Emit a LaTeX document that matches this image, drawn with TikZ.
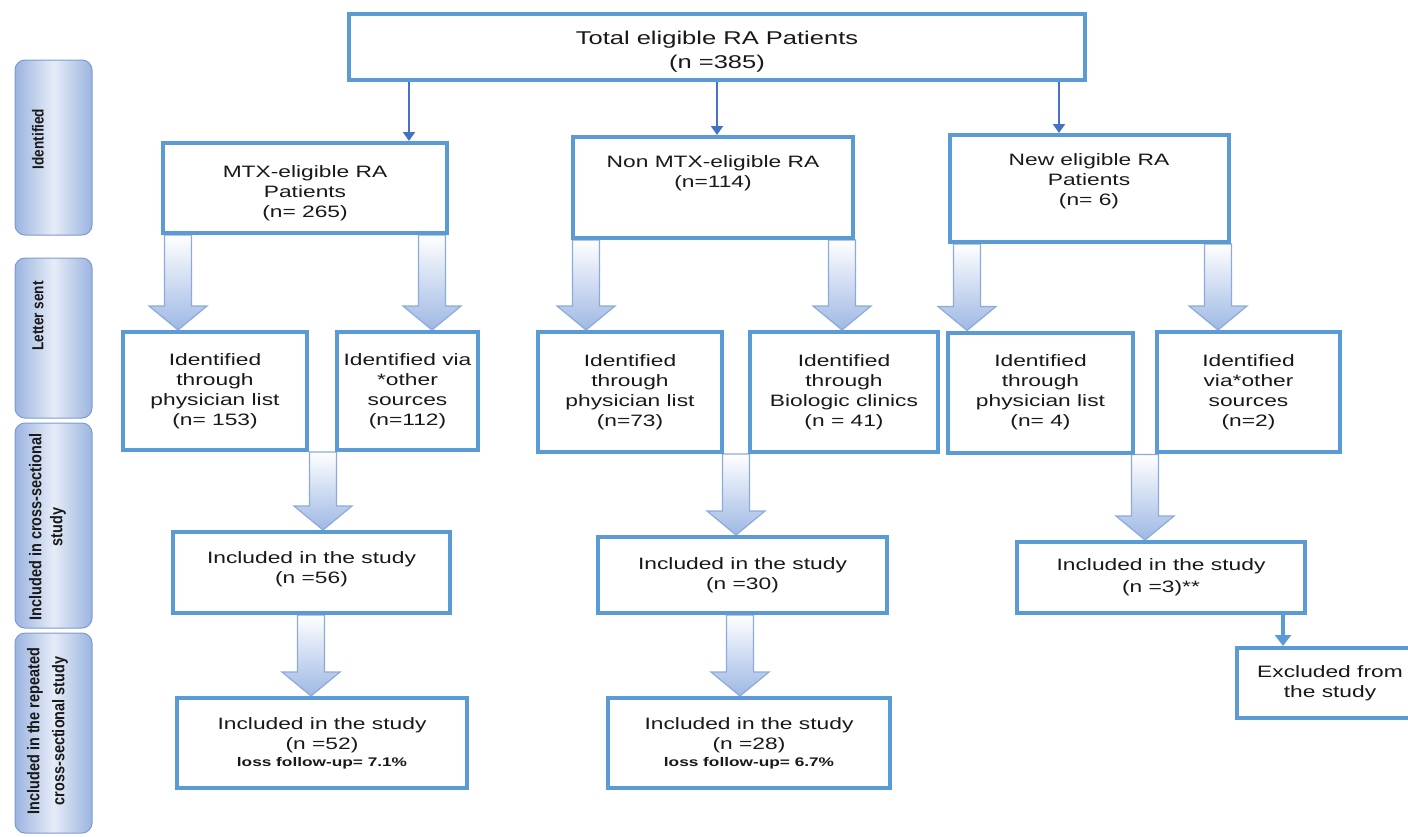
\documentclass[tikz,border=0pt]{standalone}
\usepackage{fontspec}
\setmainfont{Liberation Sans}[FakeStretch=1.38]
\newfontfamily\sidefont{Liberation Sans}[FakeStretch=0.85]
\usetikzlibrary{arrows.meta,calc,backgrounds}

\definecolor{boxblue}{RGB}{91,155,213}
\definecolor{linkblue}{RGB}{68,114,196}
\definecolor{inkgray}{RGB}{25,25,25}
\definecolor{shaftedge}{RGB}{140,170,218}
\definecolor{shaftfill}{RGB}{158,184,228}
\definecolor{sideedge}{RGB}{125,155,210}
\definecolor{sidedark}{RGB}{155,180,224}
\definecolor{sidelight}{RGB}{230,236,247}

\tikzset{
  flowbox/.style={draw=boxblue, line width=4pt, fill=white, align=center,
    inner sep=3pt, text=inkgray, font=\fontsize{16.5}{20}\selectfont},
  sidebox/.style={draw=sideedge, line width=1pt, rounded corners=10pt,
    left color=sidedark, right color=sidedark, middle color=sidelight},
  sidetext/.style={rotate=90, align=center, text=inkgray, inner sep=0pt,
    font=\sidefont\bfseries\fontsize{16}{22}\selectfont},
  thinlink/.style={draw=linkblue, line width=2pt, -{Triangle[width=12pt,length=9pt]}},
  exitlink/.style={draw=boxblue, line width=4pt, -{Triangle[width=16pt,length=11pt]}},
  blockarrow/.style={draw=shaftedge, line width=1.2pt, top color=white,
    bottom color=shaftfill, line join=miter},
}

% hollow block arrow: x position, source node, target node
\newcommand{\blockarrow}[3]{%
  \path (#1,0 |- #2.south) coordinate (bs);
  \path (#1,0 |- #3.north) coordinate (bt);
  \path[blockarrow] ($(bs)+(-13.5,0)$) -- ($(bt)+(-13.5,-24)$) -- ($(bt)+(-29,-24)$)
    -- (bt) -- ($(bt)+(29,-24)$) -- ($(bt)+(13.5,-24)$) -- ($(bs)+(13.5,0)$) -- cycle;
}

\newcommand{\smallline}[1]{{\fontsize{12.5}{15}\selectfont\bfseries #1}}

\begin{document}
\begin{tikzpicture}[x=1pt,y=-1pt]
\useasboundingbox (0,0) rectangle (1408,836);
\clip (0,0) rectangle (1408,836);

% stage labels on the left
\node[sidebox, minimum width=77pt, minimum height=175pt] (sb1) at (53.5,147.5) {};
\node[sidebox, minimum width=77pt, minimum height=160pt] (sb2) at (53.5,338) {};
\node[sidebox, minimum width=77pt, minimum height=205pt] (sb3) at (53.5,525.5) {};
\node[sidebox, minimum width=77pt, minimum height=200pt] (sb4) at (53.5,733) {};
\node[sidetext] (st1) at (38,139) {Identified};
\node[sidetext] (st2) at (38,316) {Letter sent};
\node[sidetext, font=\sidefont\bfseries\fontsize{17}{21}\selectfont] (st3) at (47.5,527) {Included in cross-sectional\\study};
\node[sidetext, font=\sidefont\bfseries\fontsize{17}{25}\selectfont] (st4) at (47.5,731) {Included in the repeated\\cross-sectional study};

% top level
\node[flowbox, minimum width=736pt, minimum height=66pt, font=\fontsize{18.5}{24}\selectfont]
  (total) at (717,47) {\rule{0pt}{23pt}Total eligible RA Patients\\(n =385)};

% first split
\node[flowbox, minimum width=284pt, minimum height=90pt] (mtx) at (305,188)
  {\rule{0pt}{22pt}MTX-eligible RA\\Patients\\(n= 265)};
\node[flowbox, minimum width=280pt, minimum height=101pt] (non) at (713,187.5)
  {Non MTX-eligible RA\\(n=114)\rule[-31pt]{0pt}{0pt}};
\node[flowbox, minimum width=279pt, minimum height=107pt] (new) at (1089,188.5)
  {New eligible RA\\Patients\\(n= 6)\rule[-17pt]{0pt}{0pt}};

% sources
\node[flowbox, minimum width=184pt, minimum height=118pt] (p1) at (215,391)
  {Identified\\through\\physician list\\(n= 153)};
\node[flowbox, minimum width=141pt, minimum height=118pt] (o1) at (407.5,391)
  {Identified via\\*other\\sources\\(n=112)};
\node[flowbox, minimum width=184pt, minimum height=120pt] (p2) at (630,392)
  {Identified\\through\\physician list\\(n=73)};
\node[flowbox, minimum width=188pt, minimum height=120pt] (b2) at (844,392)
  {Identified\\through\\Biologic clinics\\(n = 41)};
\node[flowbox, minimum width=185pt, minimum height=120pt] (p3) at (1040.5,392.5)
  {Identified\\through\\physician list\\(n= 4)};
\node[flowbox, minimum width=183pt, minimum height=120pt] (o3) at (1248.5,392)
  {Identified\\via*other\\sources\\(n=2)};

% cross-sectional study
\node[flowbox, minimum width=277pt, minimum height=81pt] (i1) at (311.5,572.5)
  {Included in the study\\(n =56)\rule[-9pt]{0pt}{0pt}};
\node[flowbox, minimum width=289pt, minimum height=76pt] (i2) at (742.5,575)
  {Included in the study\\(n =30)};
\node[flowbox, minimum width=288pt, minimum height=71pt, font=\fontsize{16.5}{22}\selectfont] (i3) at (1161,577.5)
  {Included in the study\\(n =3)**};

% repeated cross-sectional study
\node[flowbox, minimum width=290pt, minimum height=90pt] (f1) at (322,743)
  {Included in the study\\(n =52)\\[-3pt]\smallline{loss follow-up= 7.1\%}};
\node[flowbox, minimum width=282pt, minimum height=90pt] (f2) at (749,743)
  {Included in the study\\(n =28)\\[-3pt]\smallline{loss follow-up= 6.7\%}};
\node[flowbox, minimum width=186pt, minimum height=70pt] (ex) at (1330,683)
  {Excluded from\\the study};

% connectors
\draw[thinlink] (409,0 |- total.south) -- (409,0 |- mtx.north);
\draw[thinlink] (717,0 |- total.south) -- (717,0 |- non.north);
\draw[thinlink] (1059,0 |- total.south) -- (1059,0 |- new.north);
\draw[exitlink] (1283,0 |- i3.south) -- (1283,0 |- ex.north);

\begin{scope}[on background layer]
  \blockarrow{178}{mtx}{p1}
  \blockarrow{432}{mtx}{o1}
  \blockarrow{586}{non}{p2}
  \blockarrow{842}{non}{b2}
  \blockarrow{967}{new}{p3}
  \blockarrow{1218}{new}{o3}
  \blockarrow{323}{p1}{i1}
  \blockarrow{736}{p2}{i2}
  \blockarrow{1145}{p3}{i3}
  \blockarrow{311}{i1}{f1}
  \blockarrow{740}{i2}{f2}
\end{scope}
\end{tikzpicture}
\end{document}
